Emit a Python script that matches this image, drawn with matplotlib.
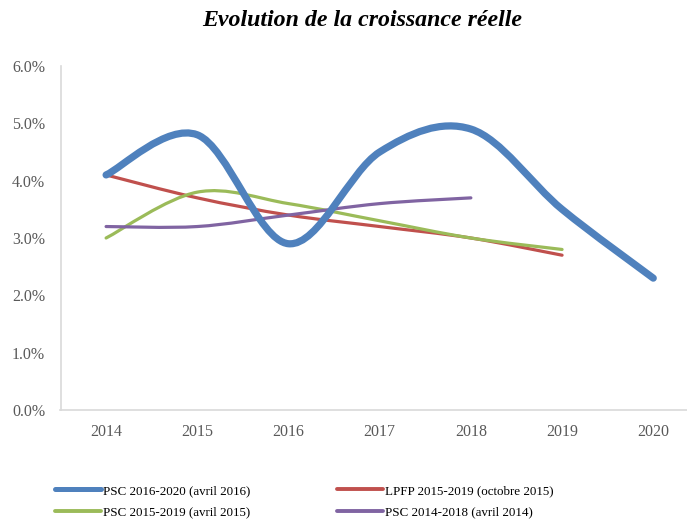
import numpy as np
import matplotlib.pyplot as plt
from matplotlib.path import Path
from matplotlib.patches import PathPatch
from matplotlib.lines import Line2D

plt.rcParams['font.family'] = ['Liberation Serif', 'DejaVu Serif']

years = ['2014', '2015', '2016', '2017', '2018', '2019', '2020']

psc_2016 = [4.1, 4.8, 2.9, 4.5, 4.9, 3.5, 2.3]
lpfp_2015 = [4.1, 3.7, 3.4, 3.2, 3.0, 2.7]
psc_2015 = [3.0, 3.8, 3.6, 3.3, 3.0, 2.8]
psc_2014 = [3.2, 3.2, 3.4, 3.6, 3.7]

labels = ['PSC 2016-2020 (avril 2016)', 'LPFP 2015-2019 (octobre 2015)',
          'PSC 2015-2019 (avril 2015)', 'PSC 2014-2018 (avril 2014)']
colors = ['#4F81BD', '#C0504D', '#9BBB59', '#8064A2']
widths = [5.2, 2.3, 2.3, 2.3]
leg_widths = [3.6, 2.8, 2.8, 2.8]


def smooth_path(vals):
    # excel-like smoothed line: cubic bezier segments through the points
    pts = np.column_stack([np.arange(len(vals)), np.array(vals, float)])
    verts = [pts[0]]
    codes = [Path.MOVETO]
    n = len(pts)
    for i in range(n - 1):
        p0 = pts[i - 1] if i > 0 else pts[i]
        p1 = pts[i]
        p2 = pts[i + 1]
        p3 = pts[i + 2] if i + 2 < n else pts[i + 1]
        c1 = p1 + (p2 - p0) / 6
        c2 = p2 - (p3 - p1) / 6
        verts += [c1, c2, p2]
        codes += [Path.CURVE4] * 3
    return Path(verts, codes)


fig = plt.figure(figsize=(6.87, 5.2), dpi=100)
ax = fig.add_axes([60.5 / 687, 1 - 410 / 520, 1 - 60.5 / 687, (410 - 66) / 520])

series = [psc_2016, lpfp_2015, psc_2015, psc_2014]
order = [1, 2, 3, 0]
for k in order:
    patch = PathPatch(smooth_path(series[k]), facecolor='none', edgecolor=colors[k],
                      lw=widths[k], capstyle='round', joinstyle='round')
    ax.add_patch(patch)

ax.set_xlim(-0.5, 6.37)
ax.set_ylim(0, 6)
ax.set_xticks(range(len(years)))
ax.set_xticklabels(years)
ax.set_yticks(np.arange(0, 7))
ax.set_yticklabels([f'{v:.1f}%' for v in np.arange(0, 7)])
ax.tick_params(length=0, labelsize=11.5, labelcolor='#595959')
ax.tick_params(axis='y', pad=11)
ax.tick_params(axis='x', pad=10)
for s in ['top', 'right']:
    ax.spines[s].set_visible(False)
for s in ['left', 'bottom']:
    ax.spines[s].set_color('#d9d9d9')
    ax.spines[s].set_linewidth(1.2)

fig.text(362 / 687, 1 - 21 / 520, 'Evolution de la croissance réelle', ha='center', va='center',
         fontsize=17.2, fontweight='bold', fontstyle='italic')

handles = [Line2D([], [], color=colors[k], lw=leg_widths[k], solid_capstyle='round') for k in range(4)]
leg = fig.legend([handles[0], handles[2], handles[1], handles[3]],
                 [labels[0], labels[2], labels[1], labels[3]],
                 ncol=2, loc='center left', bbox_to_anchor=(55 / 687, 1 - 501.5 / 520),
                 frameon=False, fontsize=9.4, handlelength=3.5, handletextpad=0.2,
                 columnspacing=6.6, labelspacing=0.7, borderaxespad=0, borderpad=0)

fig.savefig('out.png', dpi=100)
